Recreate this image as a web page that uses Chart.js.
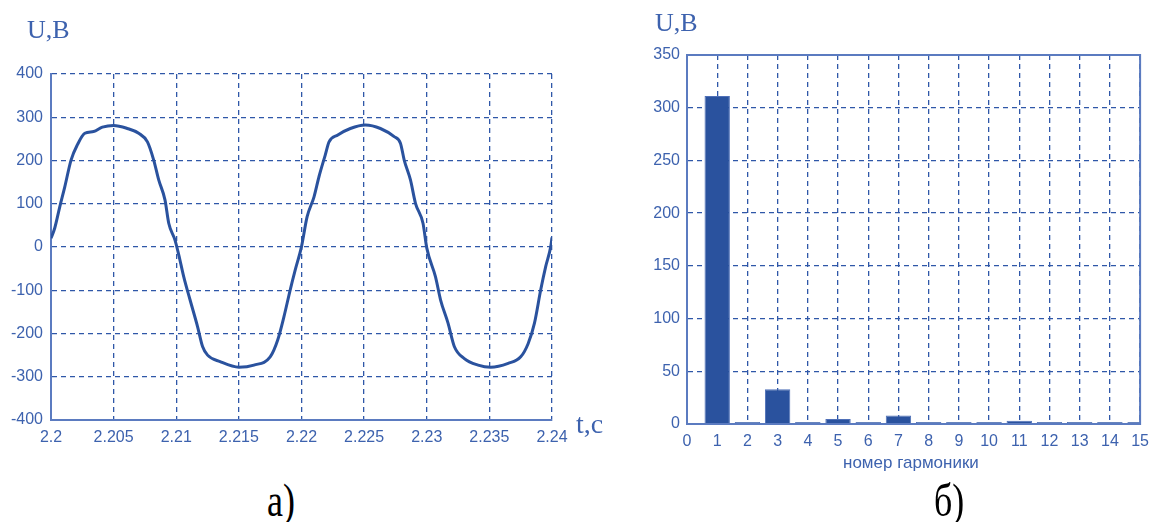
<!DOCTYPE html>
<html><head><meta charset="utf-8">
<script src="https://cdn.jsdelivr.net/npm/chart.js@4.4.0/dist/chart.umd.min.js"></script>
<style>
html,body{margin:0;padding:0;background:#fff;width:1157px;height:522px;overflow:hidden;position:relative;}
.lbl{position:absolute;white-space:nowrap;line-height:1;}
.serif{font-family:"Liberation Serif","Times New Roman",serif;}
.sans{font-family:"Liberation Sans",Arial,sans-serif;}
.blue{color:#3d62ae;}
#c1{position:absolute;left:0;top:0;}
#c2{position:absolute;left:600px;top:0;}
</style></head><body>
<canvas id="c1" width="600" height="470"></canvas>
<canvas id="c2" width="557" height="480"></canvas>
<div class="lbl serif blue" style="left:27px;top:17px;font-size:26px;">U,B</div>
<div class="lbl serif blue" style="left:655px;top:10px;font-size:26px;">U,B</div>
<div class="lbl serif blue" style="left:576px;top:410px;font-size:28px;">t,c</div>
<div class="lbl sans blue" style="left:843px;top:454px;font-size:17px;">номер гармоники</div>
<div class="lbl serif" style="left:267px;top:486px;font-size:36px;color:#000;transform-origin:0 30px;transform:scale(1,1.3);">a)</div>
<div class="lbl serif" style="left:934px;top:486px;font-size:36px;color:#000;transform-origin:0 30px;transform:scale(1,1.3);">б)</div>
<script>
// ---- waveform (chart a) ----
const waveTime = [2.2000,2.2003,2.2007,2.2011,2.2016,2.2021,2.2027,2.2034,2.2041,2.2050,2.2061,2.2070,2.2077,2.2082,2.2086,2.2091,2.2094,2.2099,2.2102,2.2106,2.2111,2.2117,2.2121,2.2125,2.2135,2.2150,2.2162,2.2175,2.2181,2.2186,2.2191,2.2195,2.2200,2.22045,2.2210,2.2214,2.2219,2.2222,2.2229,2.2239,2.2251,2.2263,2.2274,2.2279,2.2282,2.2287,2.2291,2.2297,2.2300,2.2307,2.2311,2.2317,2.2322,2.2330,2.2341,2.2351,2.2365,2.2375,2.2381,2.2386,2.2391,2.2395,2.2399,2.2400];
const waveVolt = [20,44,93,139,201,236,263,267,277,281,274,263,243,201,155,109,55,16,-18,-69,-122,-184,-230,-250,-265,-278,-273,-254,-215,-161,-99,-53,1,70,116,163,213,243,259,274,282,274,255,240,201,155,101,55,-2,-69,-122,-176,-230,-258,-273,-278,-269,-254,-223,-176,-99,-45,1,22];
const timeTicks = [2.2,2.205,2.21,2.215,2.22,2.225,2.23,2.235,2.24];
const timeTickLabels = ['2.2','2.205','2.21','2.215','2.22','2.225','2.23','2.235','2.24'];
const voltTicks = [-400,-300,-200,-100,0,100,200,300,400];

// ---- harmonic spectrum (chart б) ----
const harmonicNumbers = [1,2,3,4,5,6,7,8,9,10,11,12,13,14,15];
const harmonicAmplitudes = [311,2,33,2,4.7,2,8,2,2,2,3,2,2,2,2];
const harmonicTicks = [0,1,2,3,4,5,6,7,8,9,10,11,12,13,14,15];
const ampTicks = [0,50,100,150,200,250,300,350];

const tickColor = '#3d62ae';
const gridColor = '#2f57a8';
const axisColor = '#5b7bc0';
const markColor = '#2a529e';

Chart.defaults.font.family = '"Liberation Sans", Arial, sans-serif';
Chart.defaults.font.size = 16;
Chart.defaults.color = tickColor;
Chart.defaults.animation = false;
Chart.defaults.plugins.legend.display = false;
Chart.defaults.plugins.tooltip.enabled = false;

function fixTicks(arr){ return s => { s.ticks = arr.map(v => ({value: v})); }; }

new Chart(document.getElementById('c1'), {
  type: 'scatter',
  data: { datasets: [{
    data: waveTime.map((t, i) => ({x: t, y: waveVolt[i]})),
    showLine: true, pointRadius: 0, borderColor: markColor, borderWidth: 3,
    cubicInterpolationMode: 'monotone'
  }]},
  options: {
    responsive: false, devicePixelRatio: 1,
    layout: { padding: { left: 0, top: 74, right: 48, bottom: 20 } },
    scales: {
      x: {
        type: 'linear', min: 2.2, max: 2.24,
        afterBuildTicks: fixTicks(timeTicks),
        afterFit: s => { s.height = 30; },
        ticks: { padding: 8, maxRotation: 0, autoSkip: false, color: tickColor,
                 callback: (v, i) => timeTickLabels[i] },
        grid: { color: gridColor, lineWidth: 1.3, drawTicks: false },
        border: { display: true, color: axisColor, width: 2, dash: [5, 4] }
      },
      y: {
        type: 'linear', min: -400, max: 400,
        afterBuildTicks: fixTicks(voltTicks),
        afterFit: s => { s.width = 51; },
        ticks: { padding: 8, color: tickColor, callback: v => String(v) },
        grid: { color: gridColor, lineWidth: 1.3, drawTicks: false },
        border: { display: true, color: axisColor, width: 2, dash: [5, 4] }
      }
    }
  }
});

const framePlugin = {
  id: 'frame',
  afterDraw(chart) {
    const {ctx, chartArea: a} = chart;
    ctx.save();
    ctx.strokeStyle = axisColor;
    ctx.lineWidth = 2;
    ctx.strokeRect(a.left, a.top, a.right - a.left, a.bottom - a.top);
    ctx.restore();
  }
};

new Chart(document.getElementById('c2'), {
  type: 'bar',
  data: { datasets: [{
    data: harmonicNumbers.map((n, i) => ({x: n, y: harmonicAmplitudes[i]})),
    backgroundColor: markColor, borderColor: '#4f70b8', borderWidth: 1,
    barPercentage: 0.84, categoryPercentage: 1
  }]},
  options: {
    responsive: false, devicePixelRatio: 1,
    layout: { padding: { left: 0, top: 55, right: 15, bottom: 26 } },
    scales: {
      x: {
        type: 'linear', min: 0, max: 15, offset: false,
        afterBuildTicks: fixTicks(harmonicTicks),
        afterFit: s => { s.height = 30; },
        ticks: { padding: 8, maxRotation: 0, autoSkip: false, color: tickColor, callback: v => String(v) },
        grid: { color: gridColor, lineWidth: 1.3, drawTicks: false, offset: false },
        border: { display: true, color: axisColor, width: 2, dash: [5, 4] }
      },
      y: {
        type: 'linear', min: 0, max: 350,
        afterBuildTicks: fixTicks(ampTicks),
        afterFit: s => { s.width = 87; },
        ticks: { padding: 7, color: tickColor, callback: v => String(v) },
        grid: { color: gridColor, lineWidth: 1.3, drawTicks: false },
        border: { display: true, color: axisColor, width: 2, dash: [5, 4] }
      }
    }
  },
  plugins: [framePlugin]
});
</script>
</body></html>
